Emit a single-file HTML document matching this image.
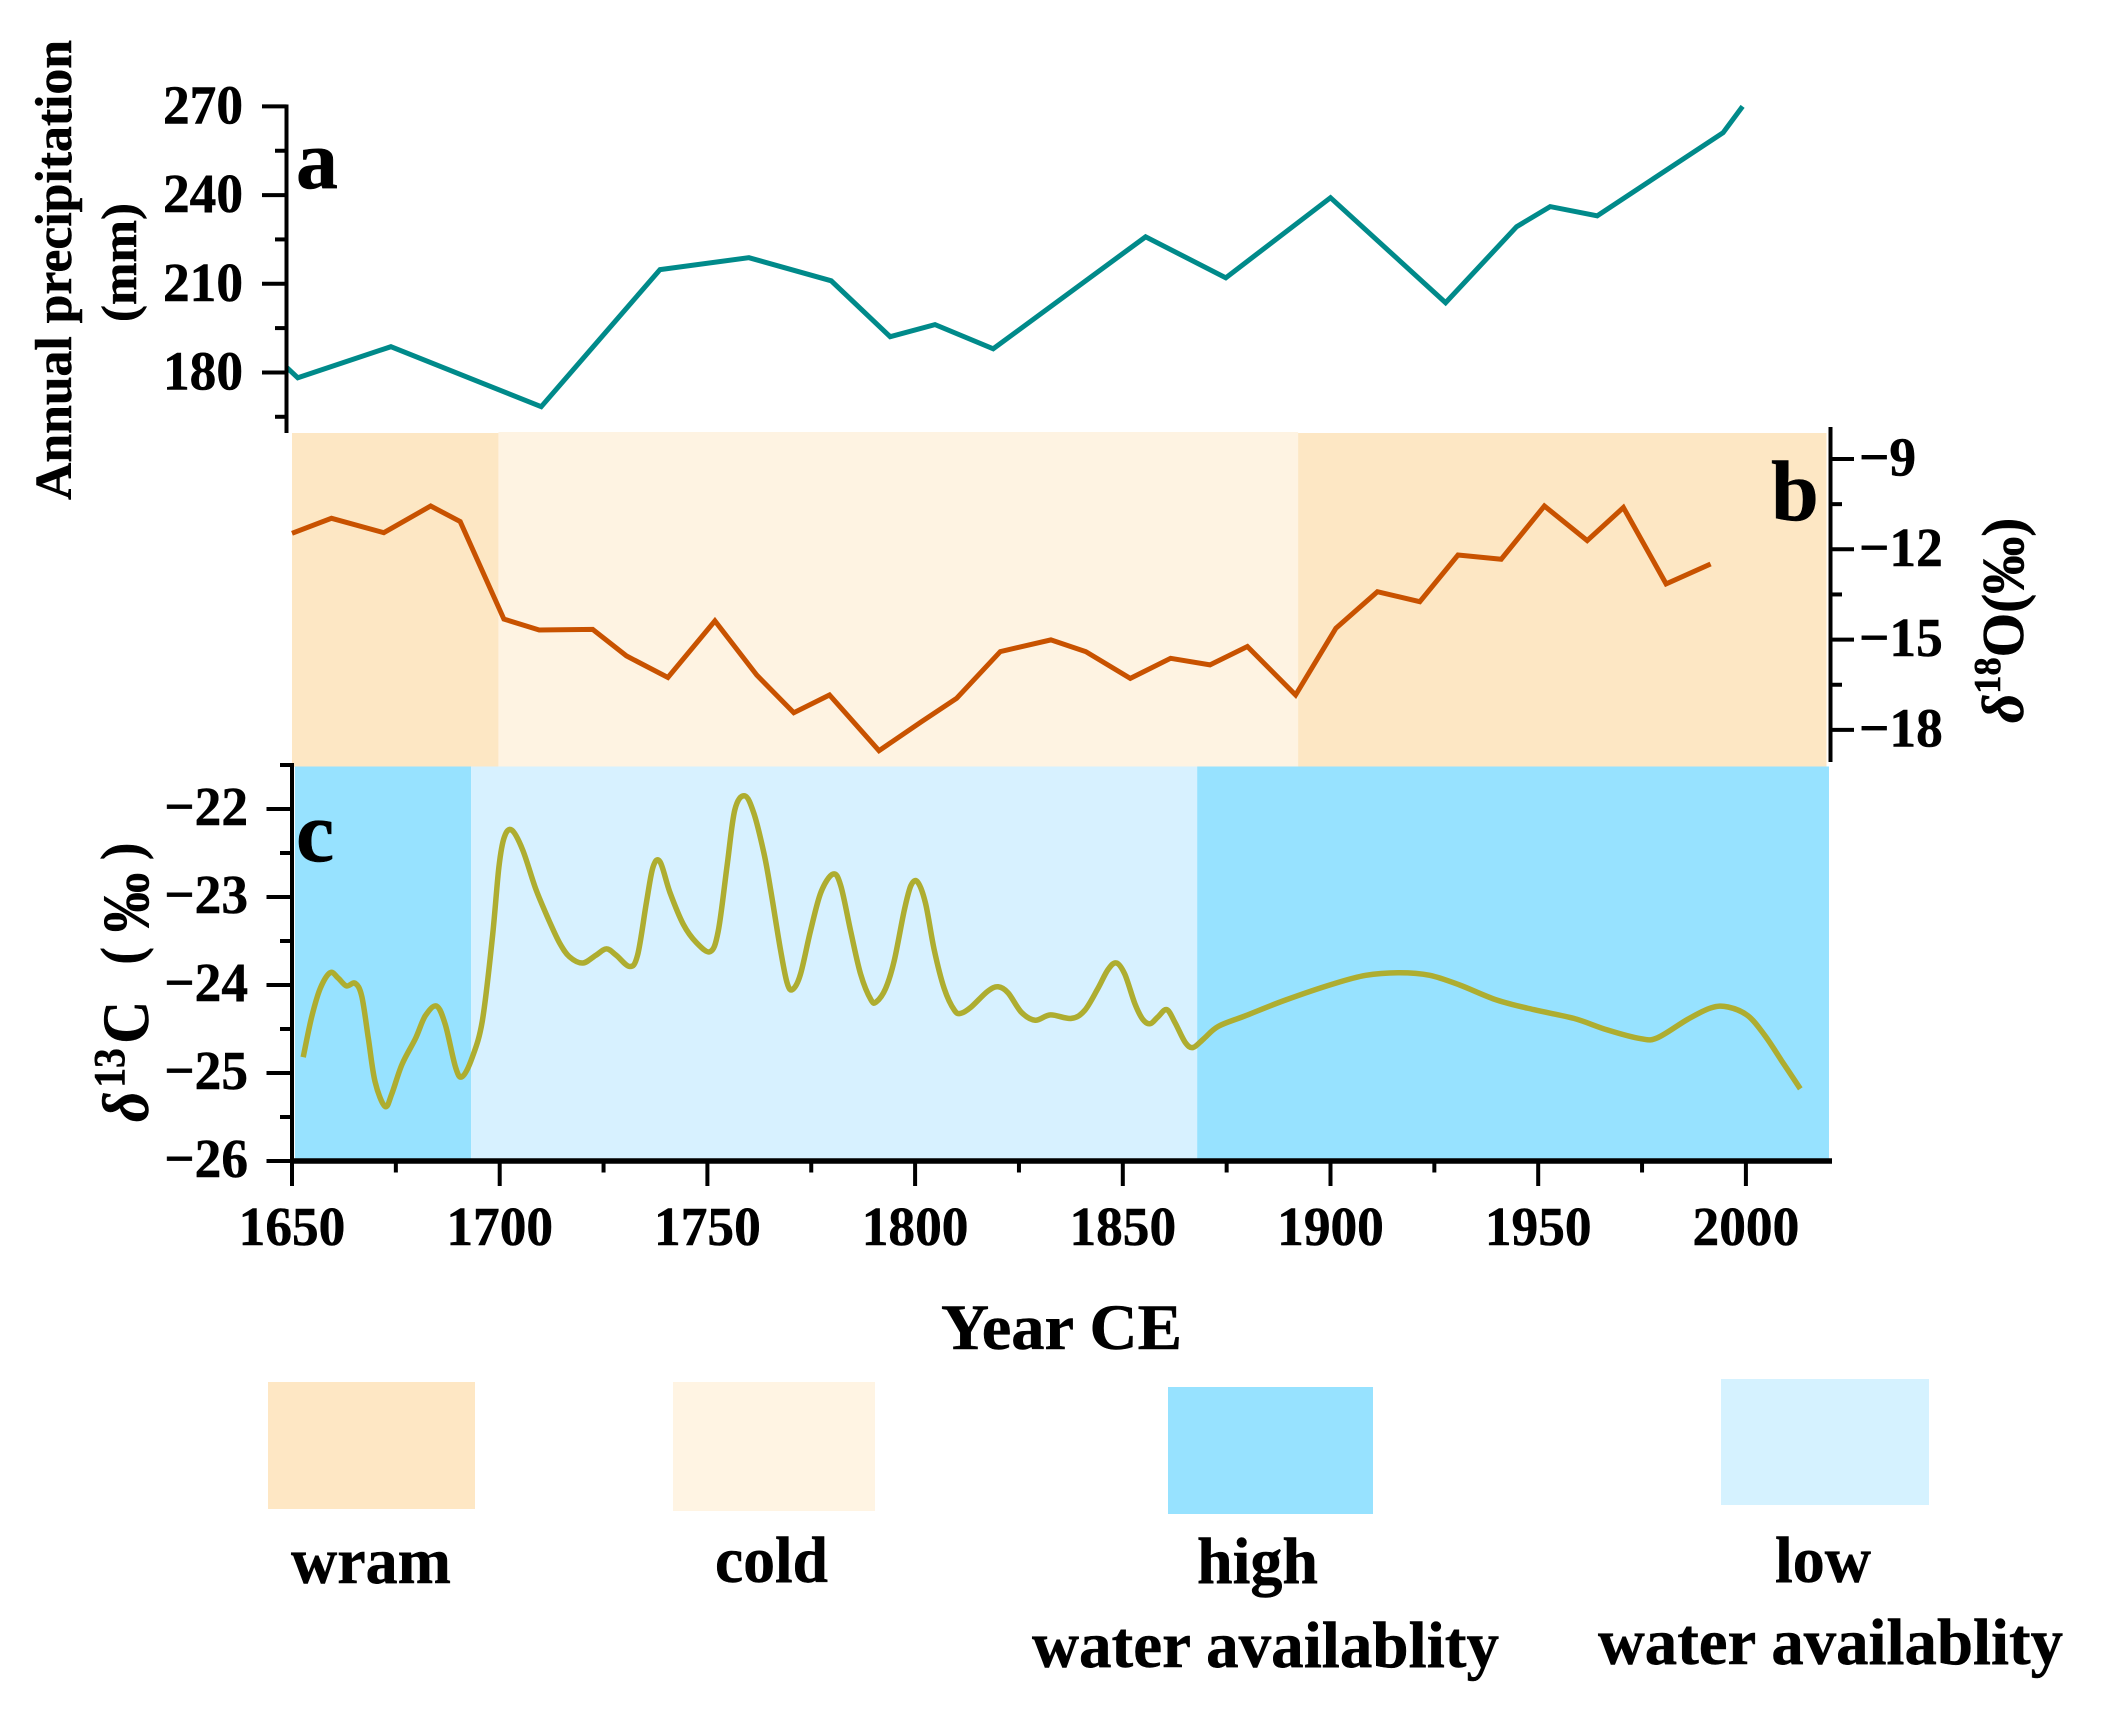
<!DOCTYPE html>
<html lang="en">
<head>
<meta charset="utf-8">
<title>Precipitation, oxygen and carbon isotope records, 1650–2020</title>
<style>
html,body{margin:0;padding:0;background:#fff;}
svg{display:block;}
text{font-family:"Liberation Serif","Noto Serif CJK SC",serif;font-weight:bold;fill:#000;stroke:#000;stroke-width:0.5px;}
</style>
</head>
<body>
<svg id="chart" xmlns="http://www.w3.org/2000/svg" width="2102" height="1726" viewBox="0 0 2102 1726">
  <rect x="0" y="0" width="2102" height="1726" fill="#ffffff"/>
  <g id="bands"></g>
  <g id="series"></g>
  <g id="axes"></g>
  <g id="labels" font-size="55"></g>

  <text x="296" y="188" font-size="84">a</text>
  <text x="1771" y="520" font-size="86">b</text>
  <text x="296" y="861" font-size="86">c</text>

  <text transform="translate(71,500) rotate(-90)" font-size="52" textLength="460" lengthAdjust="spacingAndGlyphs">Annual precipitation</text>
  <text transform="translate(136,322) rotate(-90)" font-size="50" textLength="119" lengthAdjust="spacingAndGlyphs">(mm)</text>

  <text transform="translate(2023,723) rotate(-90) scale(1.1,1.15)" font-size="52"><tspan font-style="italic">δ</tspan><tspan font-size="33" dy="-20">18</tspan><tspan dy="20">O(‰)</tspan></text>
  <text transform="translate(148,1122) rotate(-90) scale(0.9,1)" font-size="66"><tspan x="0" font-style="italic">δ</tspan><tspan x="38" font-size="44" dy="-24">13</tspan><tspan x="87" dy="24">C</tspan><tspan x="175" font-size="58" dy="-7">(</tspan><tspan x="211" dy="7">‰</tspan><tspan x="291" font-size="58" dy="-7">)</tspan></text>

  <text x="941" y="1349" font-size="65" textLength="241" lengthAdjust="spacingAndGlyphs">Year CE</text>

  <g>
    <rect x="268" y="1382" width="207" height="127" fill="#FEE7C4"/>
    <rect x="673" y="1382" width="202" height="129" fill="#FFF4E3"/>
    <rect x="1168" y="1387" width="205" height="127" fill="#97E2FF"/>
    <rect x="1721" y="1379" width="208" height="126" fill="#D5F2FF"/>
    <text x="291" y="1583" font-size="66" textLength="160" lengthAdjust="spacingAndGlyphs">wram</text>
    <text x="715" y="1582" font-size="66" textLength="113" lengthAdjust="spacingAndGlyphs">cold</text>
    <text x="1197" y="1583" font-size="66" textLength="121" lengthAdjust="spacingAndGlyphs">high</text>
    <text x="1032" y="1667" font-size="66" textLength="467" lengthAdjust="spacingAndGlyphs">water availablity</text>
    <text x="1775" y="1582" font-size="66" textLength="96" lengthAdjust="spacingAndGlyphs">low</text>
    <text x="1598" y="1664" font-size="66" textLength="465" lengthAdjust="spacingAndGlyphs">water availablity</text>
  </g>
</svg>
<script>
// ---------- data ----------
const xTickYears = [1650, 1700, 1750, 1800, 1850, 1900, 1950, 2000];
const xMinorYears = [1675, 1725, 1775, 1825, 1875, 1925, 1975];

const precipTicks = [270, 240, 210, 180];
const precipMinor = [255, 225, 195, 165];
const d18oTicks = [-9, -12, -15, -18];
const d18oMinor = [-10.5, -13.5, -16.5];
const d13cTicks = [-22, -23, -24, -25, -26];
const d13cMinor = [-21.5, -22.5, -23.5, -24.5, -25.5];

const tempBandStarts = [1650, 1699.7, 1892.2];
const tempBandEnds = [1699.7, 1892.2, 2019.4];
const tempBandKinds = ['warm', 'cold', 'warm'];
const waterBandStarts = [1650.7, 1693.1, 1867.9];
const waterBandEnds = [1693.1, 1867.9, 2020];
const waterBandKinds = ['high', 'low', 'high'];

const precipYears = [1648.8,1651.4,1673.8,1710,1738.6,1760,1779.8,1794,1804.8,1818.8,1855.5,1874.8,1900,1927.7,1944.8,1952.9,1964.2,1994.5,1999.2];
const precipValues = [181.6,178.2,188.7,168.4,214.8,218.8,211,192.1,196.2,188,225.9,212,239.1,203.6,229.3,236.1,233,261.1,270];

const d18oYears = [1650,1659.5,1672.1,1683.4,1690.5,1701,1709.5,1722.4,1730.5,1740.5,1751.8,1761.9,1770.8,1779.4,1791.3,1801.5,1810,1820.5,1832.7,1841.1,1851.8,1861.5,1871,1880,1891.6,1901.3,1911.3,1921.5,1930.7,1941.1,1951.5,1961.8,1970.5,1980.8,1991.5];
const d18oValues = [-11.47,-10.97,-11.45,-10.56,-11.08,-14.32,-14.68,-14.66,-15.54,-16.26,-14.38,-16.18,-17.43,-16.84,-18.69,-17.73,-16.95,-15.4,-15.01,-15.4,-16.29,-15.62,-15.84,-15.23,-16.84,-14.62,-13.41,-13.74,-12.19,-12.33,-10.56,-11.71,-10.61,-13.15,-12.49];

const d13cYears = [1652.7,1654.7,1656.8,1659.2,1661.1,1663.1,1665.2,1666.8,1668.4,1670,1672.4,1674,1676.5,1679.7,1682.1,1684.8,1686.9,1689.4,1691,1693.4,1695.8,1698.2,1699.8,1701.1,1702.9,1705.5,1708.7,1711.9,1714.4,1716.8,1720,1723.2,1725.7,1728,1731.3,1733.2,1735.3,1736.9,1738.6,1741,1744.2,1747.4,1750.7,1752.6,1754.7,1756.6,1759,1761.2,1763.6,1765.2,1767.6,1769.2,1770.5,1772.4,1774.8,1777.3,1780.2,1782.1,1784.5,1786.9,1789.4,1790.7,1792.9,1795,1797.4,1799,1800.6,1802.5,1804.6,1807,1809.5,1811.1,1813.5,1817.5,1820,1822.4,1825.6,1828.9,1832.6,1837.6,1840.8,1844,1846.5,1848.5,1850.5,1852.9,1854.8,1856.6,1858.5,1860.6,1862.6,1865,1866.9,1869.5,1873,1879.5,1889.2,1900.5,1908.5,1916.6,1923.9,1931.1,1940,1948.9,1958.6,1966.6,1974.7,1978.7,1986,1991.6,1995.7,2000.5,2004.5,2008.6,2013.1];
const d13cValues = [-24.82,-24.37,-24.04,-23.86,-23.92,-24.01,-23.98,-24.13,-24.61,-25.1,-25.38,-25.24,-24.9,-24.61,-24.35,-24.24,-24.45,-24.94,-25.04,-24.82,-24.41,-23.48,-22.66,-22.32,-22.24,-22.46,-22.91,-23.27,-23.52,-23.68,-23.75,-23.66,-23.59,-23.66,-23.79,-23.66,-23.07,-22.66,-22.6,-22.95,-23.31,-23.52,-23.62,-23.39,-22.66,-22.01,-21.85,-22.05,-22.5,-22.91,-23.6,-23.98,-24.05,-23.88,-23.39,-22.95,-22.74,-22.87,-23.39,-23.88,-24.17,-24.19,-24.04,-23.72,-23.15,-22.87,-22.83,-23.07,-23.6,-24.04,-24.29,-24.32,-24.25,-24.07,-24.02,-24.09,-24.31,-24.4,-24.34,-24.38,-24.29,-24.04,-23.82,-23.75,-23.88,-24.21,-24.39,-24.44,-24.36,-24.28,-24.43,-24.65,-24.71,-24.61,-24.47,-24.35,-24.17,-23.99,-23.89,-23.86,-23.89,-24,-24.17,-24.28,-24.38,-24.51,-24.61,-24.6,-24.39,-24.26,-24.25,-24.35,-24.57,-24.86,-25.18];

// ---------- scales ----------
const xScale = y => 292 + (y - 1650) * 4.154;
const yPrecip = v => 106.4 + (270 - v) * 2.956;
const yD18o = v => 459 + (-9 - v) * 30.1;
const yD13c = v => 809 + (-22 - v) * 88;

const NS = 'http://www.w3.org/2000/svg';
const bandColors = { warm: '#FDE7C4', cold: '#FEF3E2', high: '#97E2FF', low: '#D7F1FF' };
const bandsG = document.getElementById('bands');
const seriesG = document.getElementById('series');
const axesG = document.getElementById('axes');
const labelsG = document.getElementById('labels');

function make(tag, attrs, parent) {
  const el = document.createElementNS(NS, tag);
  for (const k in attrs) el.setAttribute(k, attrs[k]);
  parent.appendChild(el);
  return el;
}

function axisLine(x1, y1, x2, y2, w, name) {
  const el = make('line', { x1, y1, x2, y2, stroke: '#000', 'stroke-width': w }, axesG);
  
  
  return el;
}

function tickLabel(str, x, y, anchor, name) {
  const el = make('text', { transform: 'translate(' + x + ',' + y + ') scale(0.97,1)', 'text-anchor': anchor }, labelsG);
  el.textContent = str;
  
  
  return el;
}

const fmt = v => (v < 0 ? '\u2212' + Math.abs(v) : String(v));

// ---------- bands ----------
tempBandStarts.forEach((s, i) => {
  const cold = tempBandKinds[i] === 'cold';
  const top = cold ? 432 : 433;
  const el = make('rect', { x: xScale(s), y: top, width: xScale(tempBandEnds[i]) - xScale(s), height: 767 - top, fill: bandColors[tempBandKinds[i]] }, bandsG);
  
  
});
waterBandStarts.forEach((s, i) => {
  const el = make('rect', { x: xScale(s), y: 766.5, width: xScale(waterBandEnds[i]) - xScale(s), height: 393, fill: bandColors[waterBandKinds[i]] }, bandsG);
  
  
});

// ---------- series ----------
function polyPath(xs, ys, yf) {
  return xs.map((yr, i) => (i ? 'L' : 'M') + xScale(yr).toFixed(1) + ' ' + yf(ys[i]).toFixed(1)).join(' ');
}
function smoothPath(xs, ys, yf) {
  const p = xs.map((yr, i) => [xScale(yr), yf(ys[i])]);
  let d = 'M' + p[0][0].toFixed(1) + ' ' + p[0][1].toFixed(1);
  for (let i = 0; i < p.length - 1; i++) {
    const a = p[Math.max(i - 1, 0)], b = p[i], c = p[i + 1], e = p[Math.min(i + 2, p.length - 1)];
    const c1x = b[0] + (c[0] - a[0]) / 6, c1y = b[1] + (c[1] - a[1]) / 6;
    const c2x = c[0] - (e[0] - b[0]) / 6, c2y = c[1] - (e[1] - b[1]) / 6;
    d += ' C' + c1x.toFixed(1) + ' ' + c1y.toFixed(1) + ' ' + c2x.toFixed(1) + ' ' + c2y.toFixed(1) + ' ' + c[0].toFixed(1) + ' ' + c[1].toFixed(1);
  }
  return d;
}

const lineA = make('path', { d: polyPath(precipYears, precipValues, yPrecip), fill: 'none', stroke: '#008A8A', 'stroke-width': 5, 'stroke-linejoin': 'miter' }, seriesG);



const lineB = make('path', { d: polyPath(d18oYears, d18oValues, yD18o), fill: 'none', stroke: '#C85200', 'stroke-width': 5, 'stroke-linejoin': 'miter' }, seriesG);



const lineC = make('path', { d: smoothPath(d13cYears, d13cValues, yD13c), fill: 'none', stroke: '#AEAD30', 'stroke-width': 5.5, 'stroke-linejoin': 'round' }, seriesG);



// ---------- axes ----------
axisLine(286.5, 104.5, 286.5, 433, 4, 'precipitation-y-axis');
precipTicks.forEach(v => {
  axisLine(262, yPrecip(v), 286.5, yPrecip(v), 4, 'precipitation-major-tick');
  tickLabel(String(v), 243, yPrecip(v) + 17, 'end', 'precipitation-tick-label');
});
precipMinor.forEach(v => axisLine(275, yPrecip(v), 286.5, yPrecip(v), 4, 'precipitation-minor-tick'));

axisLine(1830.5, 427, 1830.5, 762, 4, 'd18o-y-axis');
d18oTicks.forEach(v => {
  axisLine(1830.5, yD18o(v), 1854, yD18o(v), 4, 'd18o-major-tick');
  tickLabel(fmt(v), 1859, yD18o(v) + 16.5, 'start', 'd18o-tick-label');
});
d18oMinor.forEach(v => axisLine(1830.5, yD18o(v), 1842, yD18o(v), 4, 'd18o-minor-tick'));

axisLine(292, 763, 292, 1186, 4, 'd13c-y-axis');
d13cTicks.forEach(v => {
  axisLine(266.5, yD13c(v), 292, yD13c(v), 4, 'd13c-major-tick');
  tickLabel(fmt(v), 248, yD13c(v) + 16, 'end', 'd13c-tick-label');
});
d13cMinor.forEach(v => axisLine(280, yD13c(v), 292, yD13c(v), 4, 'd13c-minor-tick'));

axisLine(290, 1161, 1832, 1161, 5.5, 'x-axis');
xTickYears.forEach(yr => {
  axisLine(xScale(yr), 1161, xScale(yr), 1186, 4, 'x-major-tick');
  tickLabel(String(yr), xScale(yr), 1245, 'middle', 'x-tick-label');
});
xMinorYears.forEach(yr => axisLine(xScale(yr), 1161, xScale(yr), 1172.5, 4, 'x-minor-tick'));
</script>
</body>
</html>
